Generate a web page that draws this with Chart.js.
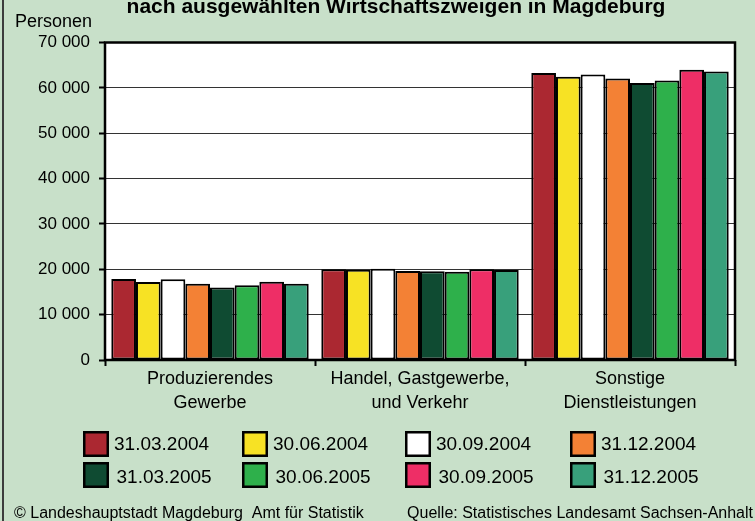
<!DOCTYPE html>
<html><head><meta charset="utf-8">
<script src="https://cdn.jsdelivr.net/npm/chart.js@4.4.1/dist/chart.umd.min.js"></script>
<style>html,body{margin:0;padding:0;background:#C8E0C9;}canvas{display:block}</style>
</head><body>
<canvas id="c" width="755" height="521"></canvas>
<script>
// ---- data ----
const categories = [['Produzierendes', 'Gewerbe'], ['Handel, Gastgewerbe,', 'und Verkehr'], ['Sonstige', 'Dienstleistungen']];
const seriesLabels = ['31.03.2004', '30.06.2004', '30.09.2004', '31.12.2004', '31.03.2005', '30.06.2005', '30.09.2005', '31.12.2005'];
const seriesColors = ['#AB2831', '#F7E224', '#FFFFFF', '#F38135', '#0F4B32', '#2EB04B', '#EE2E66', '#38A07B'];
const v31032004 = [17850, 20000, 63300];
const v30062004 = [17200, 19900, 62450];
const v30092004 = [17800, 20100, 62950];
const v31122004 = [16800, 19600, 62050];
const v31032005 = [16000, 19550, 61050];
const v30062005 = [16500, 19450, 61600];
const v30092005 = [17250, 20000, 64000];
const v31122005 = [16800, 19850, 63600];
const seriesValues = [v31032004, v30062004, v30092004, v31122004, v31032005, v30062005, v30092005, v31122005];
const yMin = 0, yMax = 70000, yStep = 10000;
const titleText = 'nach ausgewählten Wirtschaftszweigen in Magdeburg';
const yAxisTitle = 'Personen';
const footerLeft = '© Landeshauptstadt Magdeburg  Amt für Statistik';
const footerRight = 'Quelle: Statistisches Landesamt Sachsen-Anhalt';

const FONT = "'Liberation Sans', Arial, Helvetica, sans-serif";
const BG = '#C8E0C9';

const fmt = v => String(v).replace(/\B(?=(\d{3})+(?!\d))/g, ' ');

const decor = {
  id: 'decor',
  beforeDraw(chart) {
    const ctx = chart.ctx, a = chart.chartArea;
    ctx.save();
    ctx.fillStyle = BG;
    ctx.fillRect(0, 0, chart.width, chart.height);
    ctx.fillStyle = '#3c3c3c';
    ctx.fillRect(2, 0, 2, chart.height);
    ctx.fillStyle = '#FFFFFF';
    ctx.fillRect(a.left, a.top, a.right - a.left, a.bottom - a.top);
    ctx.restore();
  },
  afterDraw(chart) {
    const ctx = chart.ctx, a = chart.chartArea;
    ctx.save();
    // plot border
    ctx.strokeStyle = '#000';
    ctx.lineWidth = 2.5;
    ctx.strokeRect(a.left, a.top, a.right - a.left, a.bottom - a.top);
    // title
    ctx.fillStyle = '#000';
    ctx.textBaseline = 'alphabetic';
    ctx.textAlign = 'center';
    ctx.font = 'bold 21px ' + FONT;
    ctx.fillText(titleText, 396, 13);
    // y axis title
    ctx.textAlign = 'left';
    ctx.font = '18px ' + FONT;
    ctx.fillText(yAxisTitle, 15, 27);
    // legend
    const colX = [83, 242, 405, 570];
    const rowY = [431, 462];
    ctx.font = '19px ' + FONT;
    ctx.textBaseline = 'middle';
    chart.data.datasets.forEach((ds, i) => {
      const c = i % 4, r = Math.floor(i / 4);
      const x = colX[c], y = rowY[r];
      ctx.fillStyle = ds.backgroundColor;
      ctx.fillRect(x, y, 26, 26);
      ctx.strokeStyle = '#000';
      ctx.lineWidth = 2.5;
      ctx.strokeRect(x + 1.25, y + 1.25, 23.5, 23.5);
      ctx.fillStyle = '#000';
      ctx.textAlign = 'left';
      ctx.fillText(ds.label, x + 31 + r * 2.5, y + 14 + r * 2);
    });
    // footer
    ctx.font = '16px ' + FONT;
    ctx.textBaseline = 'alphabetic';
    ctx.textAlign = 'left';
    ctx.fillText(footerLeft, 14, 518);
    ctx.textAlign = 'right';
    ctx.fillText(footerRight, 753, 518);
    ctx.restore();
  }
};

new Chart(document.getElementById('c'), {
  type: 'bar',
  data: {
    labels: categories,
    datasets: seriesValues.map((vals, i) => ({
      label: seriesLabels[i],
      data: vals,
      backgroundColor: seriesColors[i],
      borderColor: '#000',
      borderWidth: 2,
      borderSkipped: false,
      categoryPercentage: 0.94,
      barPercentage: 1.0
    }))
  },
  options: {
    responsive: false,
    animation: false,
    events: [],
    layout: { padding: { top: 42.5, right: 20, left: 0, bottom: 0 } },
    plugins: { legend: { display: false }, title: { display: false }, tooltip: { enabled: false } },
    scales: {
      x: {
        offset: true,
        grid: { display: true, drawOnChartArea: false, drawTicks: true, tickLength: 6, tickWidth: 2, tickColor: '#000', offset: true },
        border: { display: false },
        ticks: { color: '#000', font: { family: FONT, size: 18, lineHeight: 1.28 }, padding: 2, maxRotation: 0, autoSkip: false },
        afterFit(scale) { scale.height = 161; }
      },
      y: {
        min: yMin, max: yMax,
        grid: { color: '#333', lineWidth: 1, drawTicks: true, tickLength: 6, tickWidth: 2, tickColor: '#000' },
        border: { display: false },
        ticks: { stepSize: yStep, color: '#000', font: { family: FONT, size: 17 }, padding: 9, callback: v => fmt(v) },
        afterFit(scale) { scale.width = 105; }
      }
    }
  },
  plugins: [decor]
});
</script>
</body></html>
